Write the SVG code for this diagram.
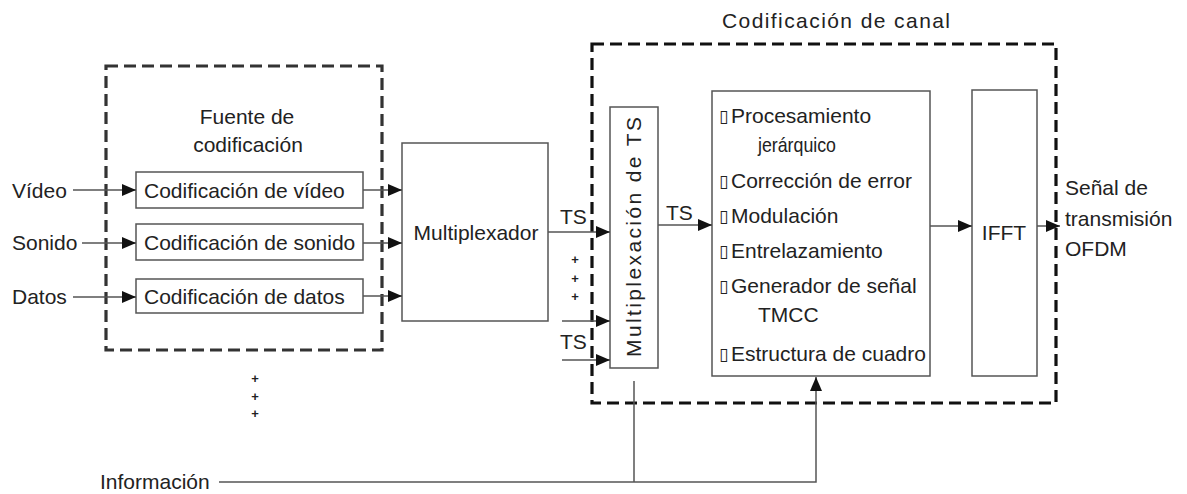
<svg xmlns="http://www.w3.org/2000/svg" width="1187" height="494" viewBox="0 0 1187 494">
<style>
text{font-family:"Liberation Sans",Arial,sans-serif;fill:#222;font-size:21px}
.box{fill:#fff;stroke:#555;stroke-width:1.5}
.dash{fill:none;stroke:#222;stroke-width:3.2;stroke-dasharray:12 6}
.ln{fill:none;stroke:#555;stroke-width:1.5}
.arr{marker-end:url(#ah)}
.tofu{font-family:"DejaVu Sans",sans-serif;font-size:17px}
.mid{text-anchor:middle}
.plus{font-size:13px;font-weight:bold;text-anchor:middle;fill:#222}
</style>
<defs>
<marker id="ah" markerUnits="userSpaceOnUse" markerWidth="14" markerHeight="12" refX="14" refY="6" orient="auto">
<path d="M0,0 L14,6 L0,12 z" fill="#111"/>
</marker>
</defs>

<g id="fuente">
<rect class="dash" x="106" y="66" width="276" height="284" style="stroke:#333"/>
<text class="mid" x="247" y="124">Fuente de</text>
<text class="mid" x="248" y="152">codificación</text>
</g>

<g id="labels-in">
<text x="12" y="198">Vídeo</text>
<text x="12" y="250">Sonido</text>
<text x="12" y="304">Datos</text>
</g>

<g id="cod-video"><rect class="box" x="136" y="172" width="227" height="36"/><text x="144" y="197.5">Codificación de vídeo</text></g>
<g id="cod-sonido"><rect class="box" x="136" y="224" width="227" height="36"/><text x="144" y="249.5">Codificación de sonido</text></g>
<g id="cod-datos"><rect class="box" x="136" y="279" width="227" height="34"/><text x="144" y="303.5">Codificación de datos</text></g>

<g id="multiplexador"><rect class="box" x="402" y="143" width="146" height="178"/><text class="mid" x="476" y="240">Multiplexador</text></g>

<g id="canal">
<rect class="dash" x="592" y="44" width="464" height="359" style="stroke:#111"/>
<text class="mid" x="836" y="28" textLength="228" lengthAdjust="spacing">Codificación de canal</text>
</g>

<g id="mux-ts"><rect class="box" x="610" y="107" width="48" height="261"/>
<text class="mid" transform="translate(641,237) rotate(-90)" font-size="20" textLength="240" lengthAdjust="spacing">Multiplexación de TS</text></g>

<g id="procesamiento"><rect class="box" x="712" y="91" width="218" height="285"/>
<text class="tofu" x="719" y="121.5">▯</text><text x="731" y="122.5">Procesamiento</text>
<text x="758" y="152" font-size="20" textLength="78" lengthAdjust="spacingAndGlyphs">jerárquico</text>
<text class="tofu" x="719" y="186.5">▯</text><text x="731" y="187.5">Corrección de error</text>
<text class="tofu" x="719" y="221.5">▯</text><text x="731" y="222.5">Modulación</text>
<text class="tofu" x="719" y="256.5">▯</text><text x="731" y="257.5">Entrelazamiento</text>
<text class="tofu" x="719" y="291.5">▯</text><text x="731" y="292.5">Generador de señal</text>
<text x="758" y="322" font-size="20">TMCC</text>
<text class="tofu" x="719" y="359.5">▯</text><text x="731" y="360.5">Estructura de cuadro</text>
</g>

<g id="ifft"><rect class="box" x="972" y="90" width="65" height="286"/><text class="mid" x="1004" y="239.5">IFFT</text></g>

<g id="salida">
<text x="1065" y="194.5">Señal de</text>
<text x="1065" y="225.5">transmisión</text>
<text x="1065" y="255.5">OFDM</text>
</g>

<g id="informacion"><text x="100" y="489">Información</text></g>

<g id="dots">
<text class="plus" x="255" y="383">+</text>
<text class="plus" x="255" y="401">+</text>
<text class="plus" x="255" y="418">+</text>
<text class="plus" x="575" y="264">+</text>
<text class="plus" x="575" y="283">+</text>
<text class="plus" x="575" y="301">+</text>
</g>

<g id="connectors">
<line class="ln arr" x1="73" y1="190" x2="136" y2="190"/>
<line class="ln arr" x1="82" y1="243" x2="136" y2="243"/>
<line class="ln arr" x1="73" y1="297" x2="136" y2="297"/>
<line class="ln arr" x1="363" y1="190" x2="402" y2="190"/>
<line class="ln arr" x1="363" y1="243" x2="402" y2="243"/>
<line class="ln arr" x1="363" y1="296" x2="402" y2="296"/>
<line class="ln arr" x1="548" y1="232" x2="610" y2="232"/>
<text x="560" y="223.5">TS</text>
<line class="ln arr" x1="562" y1="321" x2="610" y2="321"/>
<text x="560" y="348.5">TS</text>
<line class="ln arr" x1="562" y1="360" x2="610" y2="360"/>
<line class="ln arr" x1="658" y1="225" x2="712" y2="225"/>
<text x="666" y="219.5">TS</text>
<line class="ln arr" x1="930" y1="226" x2="972" y2="226"/>
<line class="ln arr" x1="1037" y1="226" x2="1060" y2="226"/>
<polyline class="ln arr" points="219,482 816,482 816,377"/>
<line class="ln" x1="634" y1="482" x2="634" y2="381"/>
</g>
</svg>
